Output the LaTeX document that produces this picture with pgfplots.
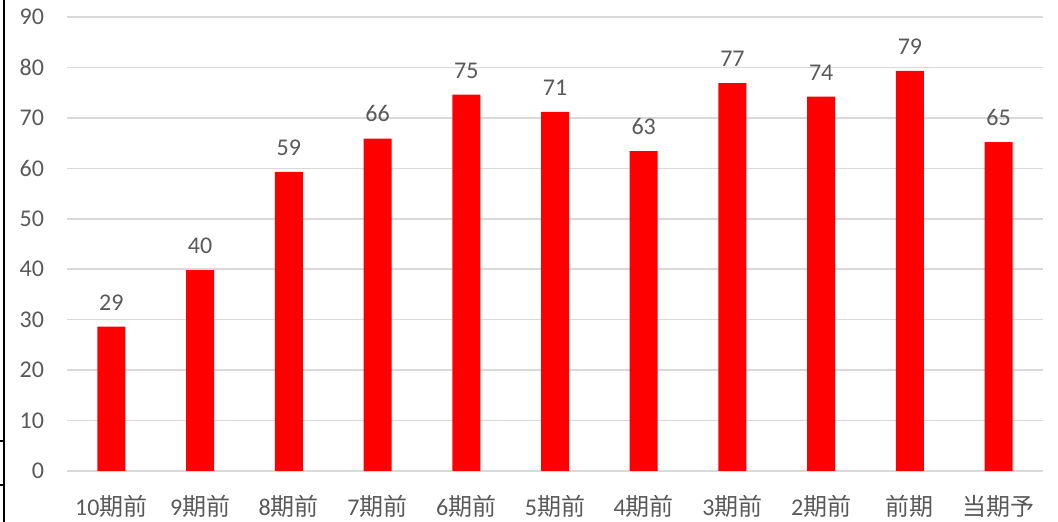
\documentclass[border=0pt]{standalone}
\usepackage{fontspec}
\setmainfont{Carlito}
\newfontfamily\cjk[Scale=1.0]{Noto Sans CJK JP}
\usepackage{pgfplots}
\pgfplotsset{compat=1.18}
\definecolor{barred}{HTML}{FF0000}
\definecolor{txtgray}{HTML}{595959}
\definecolor{gridgray}{HTML}{D9D9D9}

\begin{document}
\begin{tikzpicture}
\useasboundingbox (0,0) rectangle (529pt,261pt);
% left border of the cropped sheet
\draw[black, line width=1pt] (2pt,0) -- (2pt,261pt);
\draw[black, line width=0.8pt] (0,40.5pt) -- (2.5pt,40.5pt);
\draw[black, line width=0.8pt] (0,18.5pt) -- (2.5pt,18.5pt);

\begin{axis}[
    at={(33.5pt,25.5pt)}, anchor=south west,
    scale only axis,
    width=488pt, height=227pt,
    xmin=-0.5, xmax=10.5,
    ymin=0, ymax=90,
    ytick={0,10,...,90},
    xtick={0,...,10},
    xticklabels={10{\cjk 期前},9{\cjk 期前},8{\cjk 期前},7{\cjk 期前},6{\cjk 期前},5{\cjk 期前},4{\cjk 期前},3{\cjk 期前},2{\cjk 期前},{\cjk 前期},{\cjk 当期予}},
    axis line style={draw=none},
    major tick length=0pt,
    ymajorgrids,
    grid style={gridgray, line width=0.8pt},
    tick label style={font=\fontsize{12}{14}\selectfont, text=txtgray},
    /pgf/number format/assume math mode=true,
    yticklabel style={xshift=-8pt},
    xticklabel style={yshift=-8.5pt},
    ybar, bar width=14pt,
    nodes near coords,
    nodes near coords style={font=\fontsize{12}{14}\selectfont, text=txtgray, inner sep=0pt, anchor=south, yshift=8pt,
      /pgf/number format/.cd, fixed, precision=0},
]
\addplot[fill=barred, draw=none] coordinates {
  (0,28.6) (1,39.8) (2,59.3) (3,65.9) (4,74.6) (5,71.2)
  (6,63.4) (7,76.9) (8,74.2) (9,79.3) (10,65.2)
};
\end{axis}
\end{tikzpicture}
\end{document}
